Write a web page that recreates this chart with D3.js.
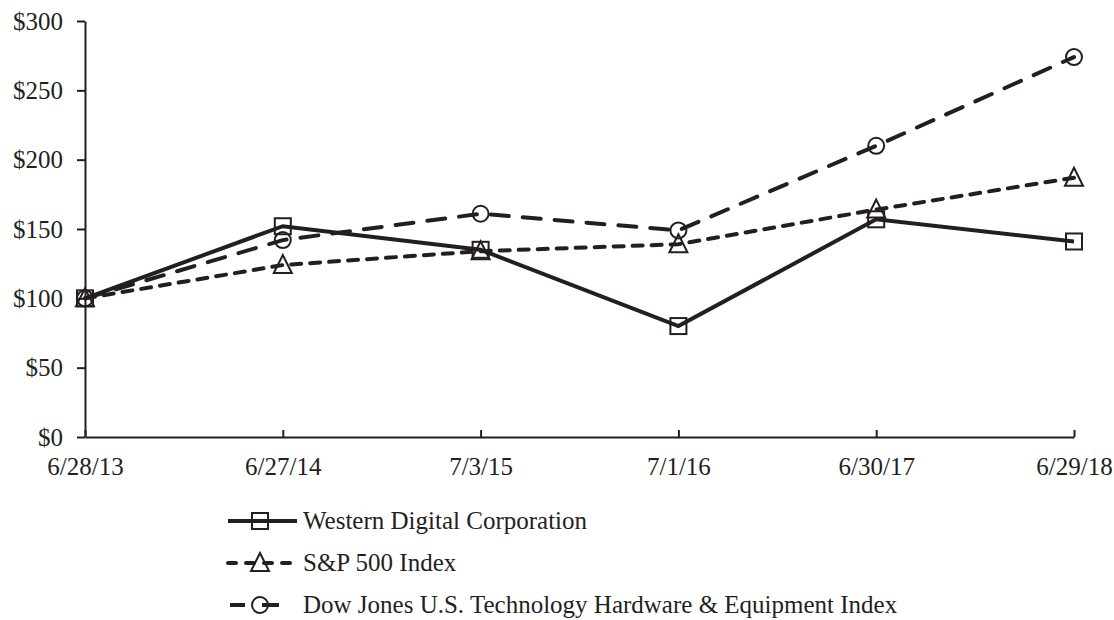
<!doctype html>
<html lang="en">
<head>
<meta charset="UTF-8">
<title>cumulative return</title>
<script src="https://d3js.org/d3.v7.min.js"></script>
<style>
  body { margin: 0; background: #fff; }
  text { font-family: "Liberation Serif", "Times New Roman", serif; fill: #231f20; }
</style>
</head>
<body>
<script>
  // data
  var dates = ["6/28/13", "6/27/14", "7/3/15", "7/1/16", "6/30/17", "6/29/18"];
  var wdc   = [100, 152, 135, 80, 157, 141];
  var spx   = [100, 124, 134, 139, 164, 187];
  var djTech = [100, 142, 161, 149, 210, 274];
  var yTicks = [0, 50, 100, 150, 200, 250, 300];
  var seriesNames = ["Western Digital Corporation", "S&P 500 Index",
                     "Dow Jones U.S. Technology Hardware & Equipment Index"];

  var width = 1114, height = 620;
  var ink = "#231f20";

  var svg = d3.select("body").append("svg")
      .attr("width", width)
      .attr("height", height);

  var x = d3.scalePoint().domain(dates).range([85, 1074]);
  var y = d3.scaleLinear().domain([0, 300]).range([437, 21]);

  // axes
  var yAxis = d3.axisLeft(y)
      .tickValues(yTicks)
      .tickSize(8)
      .tickSizeOuter(0)
      .tickPadding(14)
      .tickFormat(function(d) { return "$" + d; });

  var xAxis = d3.axisBottom(x)
      .tickSize(-7)
      .tickSizeOuter(0)
      .tickPadding(20);

  var gy = svg.append("g").attr("transform", "translate(85,0)").call(yAxis);
  var gx = svg.append("g").attr("transform", "translate(0,437)").call(xAxis);

  [gx, gy].forEach(function(g) {
    g.selectAll("path, line").attr("stroke", ink).attr("stroke-width", 2);
    g.selectAll("text").style("font-size", "25px").attr("fill", ink)
      .style("font-family", "'Liberation Serif', serif");
  });
  gx.selectAll("text").attr("dy", "0.71em");

  var series = [
    {name: seriesNames[0], values: wdc,    dash: null,    legendDash: null,         marker: "square"},
    {name: seriesNames[1], values: spx,    dash: "10,9",  legendDash: "8,10",       marker: "triangle"},
    {name: seriesNames[2], values: djTech, dash: "18,14", legendDash: "15,17,100", marker: "circle"}
  ];

  var line = d3.line()
      .x(function(d, i) { return x(dates[i]); })
      .y(function(d) { return y(d); });

  function drawMarker(g, type, cx, cy) {
    if (type === "square") {
      g.append("rect").attr("x", cx - 8).attr("y", cy - 8)
        .attr("width", 16).attr("height", 16);
    } else if (type === "triangle") {
      g.append("path")
        .attr("d", "M" + cx + "," + (cy - 10) + "L" + (cx + 9) + "," + (cy + 8) +
                   "L" + (cx - 9) + "," + (cy + 8) + "Z");
    } else {
      g.append("circle").attr("cx", cx).attr("cy", cy).attr("r", 8);
    }
  }

  series.forEach(function(s) {
    svg.append("path")
      .datum(s.values)
      .attr("d", line)
      .attr("fill", "none")
      .attr("stroke", ink)
      .attr("stroke-width", 4)
      .attr("stroke-linecap", s.dash ? "round" : "butt")
      .attr("stroke-dasharray", s.dash);

    var mg = svg.append("g").attr("fill", "none").attr("stroke", ink).attr("stroke-width", 2);
    s.values.forEach(function(v, i) {
      drawMarker(mg, s.marker, x(dates[i]), y(v));
    });
  });

  // legend
  var legend = svg.append("g");
  var rowY = [521, 563, 605];
  series.forEach(function(s, i) {
    var ly = rowY[i];
    var x1 = i === 2 ? 230 : 228;
    var x2 = i === 2 ? 279 : 297;
    legend.append("line")
      .attr("x1", x1).attr("x2", x2)
      .attr("y1", ly).attr("y2", ly)
      .attr("stroke", ink)
      .attr("stroke-width", 4)
      .attr("stroke-linecap", i === 1 ? "round" : "butt")
      .attr("stroke-dasharray", s.legendDash);
    var mg = legend.append("g").attr("fill", "none").attr("stroke", ink).attr("stroke-width", 2);
    drawMarker(mg, s.marker, 260, ly);
    legend.append("text")
      .attr("x", 303).attr("y", ly)
      .attr("dy", "0.33em")
      .style("font-size", "25px")
      .text(s.name);
  });
</script>
</body>
</html>
